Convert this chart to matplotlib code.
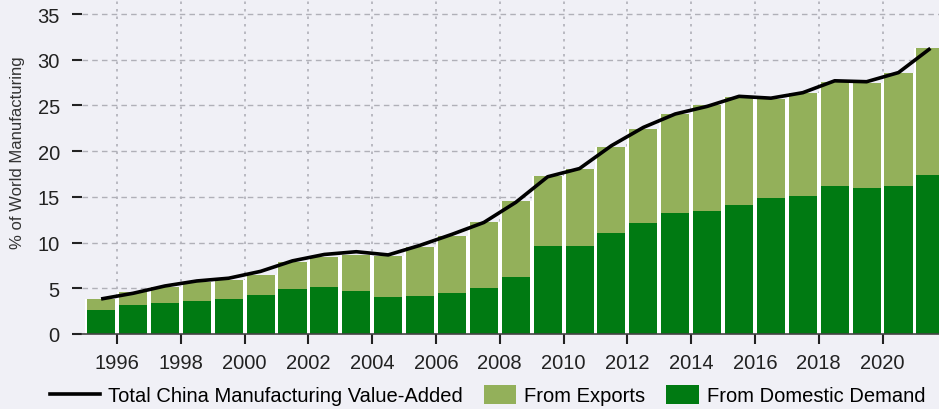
import matplotlib
matplotlib.use("Agg")
import matplotlib.pyplot as plt
import matplotlib.patches as mpatches
from matplotlib.legend_handler import HandlerPatch
import numpy as np

plt.rcParams['font.family'] = ['Liberation Sans', 'DejaVu Sans']

# China's share of world manufacturing value-added (%)
years = list(range(1995, 2022))
domestic = [2.65, 3.15, 3.35, 3.6, 3.85, 4.25, 4.92, 5.1, 4.65, 4.05,
            4.15, 4.43, 5.0, 6.18, 9.58, 9.66, 11.1, 12.1, 13.2, 13.5,
            14.15, 14.85, 15.1, 16.15, 16.0, 16.2, 17.4]
exports = [1.2, 1.4, 1.8, 2.05, 2.1, 2.15, 2.98, 3.3, 3.99, 4.5,
           5.35, 6.27, 7.3, 8.32, 7.72, 8.34, 9.4, 10.3, 10.9, 11.5,
           11.8, 10.85, 11.3, 11.45, 11.5, 12.4, 13.9]
total_va = [3.83, 4.45, 5.25, 5.8, 6.1, 6.85, 8.0, 8.7, 9.0, 8.65,
            9.7, 10.9, 12.2, 14.4, 17.2, 18.1, 20.6, 22.6, 24.07, 24.9,
            26.0, 25.8, 26.4, 27.7, 27.6, 28.6, 31.25]
xticks = list(range(1996, 2021, 2))
yticks = [0, 5, 10, 15, 20, 25, 30, 35]

dark_green = '#007a12'
light_green = '#93b05a'
bg = '#f0f0f6'

fig = plt.figure(figsize=(9.39, 4.10), dpi=100)
fig.patch.set_facecolor(bg)
ax = fig.add_axes([0.0873, 0.183, 0.9127, 0.817])
ax.set_facecolor(bg)

x = np.array(years) + 0.5
stack_top = np.array(domestic) + np.array(exports)
# white backing so the slits between columns read as white
ax.bar(x, stack_top, width=1.0, color='white', linewidth=0, zorder=1.5)
ax.bar(x, domestic, width=0.88, color=dark_green, linewidth=0, zorder=2)
ax.bar(x, exports, width=0.88, bottom=domestic, color=light_green,
       linewidth=0, zorder=2)
ax.plot(x, total_va, color='black', linewidth=2.6, zorder=3,
        solid_capstyle='butt')

ax.set_xlim(1994.9, 2021.77)
ax.set_ylim(0, 36.65)
ax.set_xticks(xticks)
ax.set_yticks(yticks)
ax.tick_params(axis='both', labelsize=14.5, colors='#222222', length=7, width=1.5)
ax.tick_params(axis='x', pad=7)
ax.tick_params(axis='y', pad=9)

ax.set_axisbelow(True)
ax.grid(axis='y', linestyle=(0, (4, 3)), color='#b0b0b8', linewidth=1)
ax.grid(axis='x', linestyle=(0, (1.5, 3)), color='#b0b0b8', linewidth=1.2)

for side in ['top', 'right', 'left']:
    ax.spines[side].set_visible(False)
ax.spines['bottom'].set_color('#444444')
ax.spines['bottom'].set_linewidth(1.2)

fig.text(0.019, 0.627, '% of World Manufacturing', rotation=90,
         ha='center', va='center', fontsize=12, color='#333333')


class WidePatch(HandlerPatch):
    """Legend swatch: a filled rectangle sitting at the right of the handle box."""
    def create_artists(self, legend, orig_handle, xdescent, ydescent,
                       width, height, fontsize, trans):
        w = height * 2.3
        p = mpatches.Rectangle((width - w - xdescent, -ydescent - 2),
                               w, height + 4,
                               facecolor=orig_handle.get_facecolor(),
                               edgecolor='none', transform=trans)
        return [p]


h_line = plt.Line2D([], [], color='black', linewidth=2.6)
h_exp = mpatches.Patch(color=light_green)
h_dom = mpatches.Patch(color=dark_green)
fig.legend([h_line, h_exp, h_dom],
           ['Total China Manufacturing Value-Added', 'From Exports',
            'From Domestic Demand'],
           loc='center', bbox_to_anchor=(0.519, 0.032), ncol=3, frameon=False,
           fontsize=14.5, handlelength=2.5, columnspacing=0.15,
           handletextpad=0.4,
           handler_map={mpatches.Patch: WidePatch()})

fig.savefig('out.png', dpi=100, facecolor=bg)
